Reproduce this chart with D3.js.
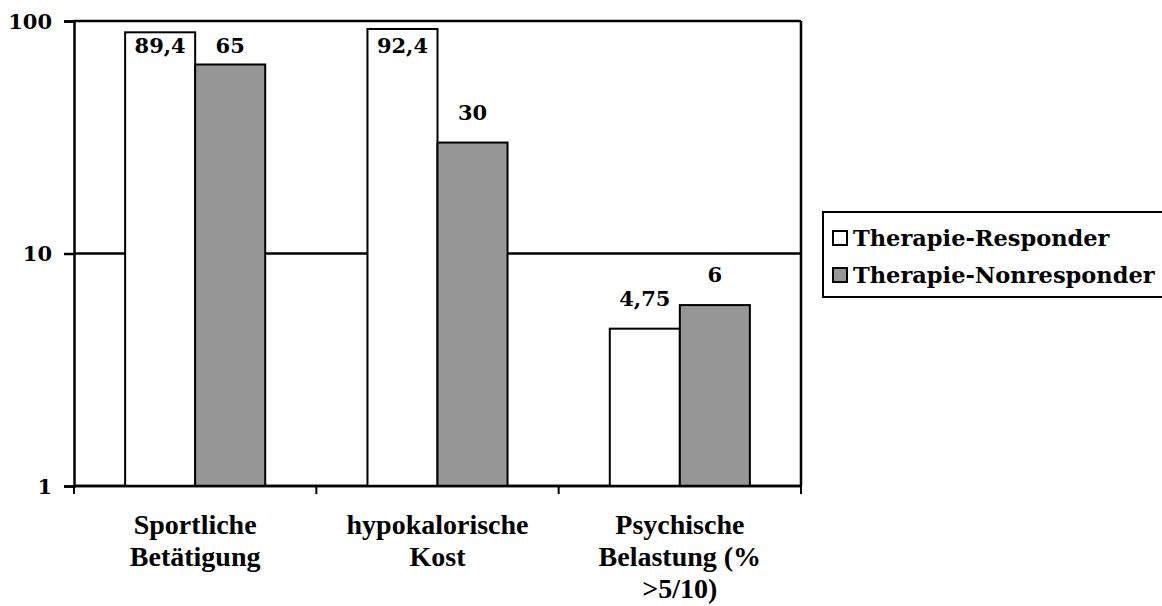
<!DOCTYPE html>
<html>
<head>
<meta charset="utf-8">
<script src="https://cdn.jsdelivr.net/npm/d3@7"></script>
<style>
  body { margin: 0; background: #fff; }
  text { font-weight: bold; fill: #000; }
</style>
</head>
<body>
<svg id="chart" width="1162" height="606"></svg>
<script>
const categories = [
  ["Sportliche", "Betätigung"],
  ["hypokalorische", "Kost"],
  ["Psychische", "Belastung (%", ">5/10)"]
];
const seriesNames = ["Therapie-Responder", "Therapie-Nonresponder"];
const responder = [89.4, 92.4, 4.75];
const nonresponder = [65, 30, 6];
const responderLabels = ["89,4", "92,4", "4,75"];
const nonresponderLabels = ["65", "30", "6"];
const yTicks = [1, 10, 100];
const colors = ["#ffffff", "#969696"];

const serif = "'DejaVu Serif', serif";
const narrowSerif = "'Liberation Serif', serif";

const svg = d3.select("#chart");

const plotLeft = 74, plotRight = 801, plotTop = 21, plotBottom = 486;

const x = d3.scaleBand()
  .domain(d3.range(categories.length))
  .range([plotLeft, plotRight])
  .paddingInner(0)
  .paddingOuter(0);

const xs = d3.scaleBand()
  .domain([0, 1])
  .range([0, x.bandwidth()])
  .paddingOuter(0.73)
  .paddingInner(0);

const y = d3.scaleLog()
  .domain([1, 100])
  .range([plotBottom, plotTop]);

// gridlines
svg.append("g")
  .selectAll("line")
  .data(yTicks)
  .join("line")
  .attr("x1", plotLeft).attr("x2", plotRight)
  .attr("y1", d => y(d)).attr("y2", d => y(d))
  .attr("stroke", "#000")
  .attr("stroke-width", 2.5);

// right border
svg.append("line")
  .attr("x1", plotRight).attr("x2", plotRight)
  .attr("y1", plotTop).attr("y2", plotBottom)
  .attr("stroke", "#000").attr("stroke-width", 2.5);

const series = [
  { vals: responder, labels: responderLabels },
  { vals: nonresponder, labels: nonresponderLabels }
];

// bars
series.forEach((s, si) => {
  svg.append("g")
    .selectAll("rect")
    .data(s.vals)
    .join("rect")
    .attr("x", (d, i) => x(i) + xs(si))
    .attr("y", d => y(d))
    .attr("width", xs.bandwidth())
    .attr("height", d => y(1) - y(d))
    .attr("fill", colors[si])
    .attr("stroke", "#000")
    .attr("stroke-width", 2);
});

// value labels
series.forEach((s, si) => {
  svg.append("g")
    .selectAll("text")
    .data(s.vals)
    .join("text")
    .attr("x", (d, i) => x(i) + xs(si) + xs.bandwidth() / 2)
    .attr("y", d => Math.max(y(d) - 23, plotTop + 32))
    .attr("text-anchor", "middle")
    .style("font-family", serif)
    .style("font-size", "21px")
    .text((d, i) => s.labels[i]);
});

// y axis
const yAxis = svg.append("g")
  .attr("transform", `translate(${plotLeft},0)`)
  .call(d3.axisLeft(y).tickValues(yTicks).tickFormat(d3.format("d")).tickSize(10).tickPadding(12));
yAxis.select(".domain").attr("stroke", "#000").attr("stroke-width", 2.5);
yAxis.selectAll(".tick line").attr("stroke", "#000").attr("stroke-width", 2.5);
yAxis.selectAll("text")
  .style("font-size", "21px")
  .style("font-family", serif)
  .style("font-weight", "bold")
  .attr("dy", "0.35em");

// x axis baseline + category ticks
svg.append("line")
  .attr("x1", plotLeft).attr("x2", plotRight)
  .attr("y1", plotBottom).attr("y2", plotBottom)
  .attr("stroke", "#000").attr("stroke-width", 2.5);
svg.append("g")
  .selectAll("line")
  .data(d3.range(categories.length + 1))
  .join("line")
  .attr("x1", i => i < categories.length ? x(i) : plotRight)
  .attr("x2", i => i < categories.length ? x(i) : plotRight)
  .attr("y1", plotBottom).attr("y2", plotBottom + 8)
  .attr("stroke", "#000").attr("stroke-width", 2);

// category labels
const cat = svg.append("g")
  .selectAll("text")
  .data(categories)
  .join("text")
  .attr("text-anchor", "middle")
  .style("font-family", narrowSerif)
  .style("font-size", "28px")
  .attr("transform", (d, i) => `translate(${x(i) + x.bandwidth() / 2},0)`);
cat.selectAll("tspan")
  .data(d => d)
  .join("tspan")
  .attr("x", 0)
  .attr("y", (d, j) => 534 + j * 32)
  .text(d => d);

// legend
const lg = svg.append("g");
lg.append("rect")
  .attr("x", 823).attr("y", 212)
  .attr("width", 345).attr("height", 85)
  .attr("fill", "#fff").attr("stroke", "#000").attr("stroke-width", 2);
seriesNames.forEach((name, i) => {
  const cy = 238 + i * 37;
  lg.append("rect")
    .attr("x", 833).attr("y", cy - 7)
    .attr("width", 14).attr("height", 14)
    .attr("fill", colors[i]).attr("stroke", "#000").attr("stroke-width", 2);
  lg.append("text")
    .attr("x", 853).attr("y", cy)
    .attr("dy", "0.35em")
    .style("font-family", serif)
    .style("font-size", "22.5px")
    .text(name);
});
</script>
</body>
</html>
